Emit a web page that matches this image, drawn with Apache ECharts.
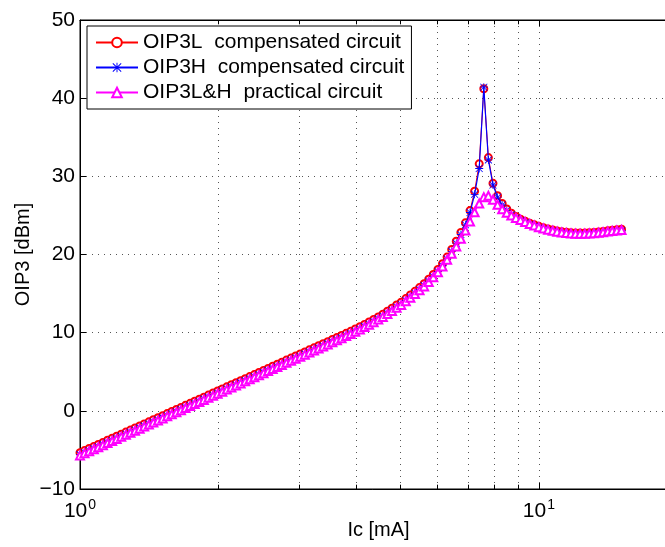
<!DOCTYPE html>
<html>
<head>
<meta charset="utf-8">
<script src="https://cdn.jsdelivr.net/npm/echarts@6/dist/echarts.min.js"></script>
<style>html,body{margin:0;padding:0;background:#fff}#c{width:665px;height:547px}</style>
</head>
<body>
<div id="c"></div>
<script>
// Ic [mA], log-spaced samples (100 per decade) from 1 to ~15
const Ic = [1.000,1.023,1.047,1.072,1.096,1.122,1.148,1.175,1.202,1.230,1.259,1.288,1.318,1.349,1.380,1.413,1.445,1.479,1.514,1.549,1.585,1.622,1.660,1.698,1.738,1.778,1.820,1.862,1.905,1.950,1.995,2.042,2.089,2.138,2.188,2.239,2.291,2.344,2.399,2.455,2.512,2.570,2.630,2.692,2.754,2.818,2.884,2.951,3.020,3.090,3.162,3.236,3.311,3.388,3.467,3.548,3.631,3.715,3.802,3.890,3.981,4.074,4.169,4.266,4.365,4.467,4.571,4.677,4.786,4.898,5.012,5.129,5.248,5.370,5.495,5.623,5.754,5.888,6.026,6.166,6.310,6.457,6.607,6.761,6.918,7.079,7.244,7.413,7.586,7.762,7.943,8.128,8.318,8.511,8.710,8.913,9.120,9.333,9.550,9.772,10.00,10.23,10.47,10.72,10.96,11.22,11.48,11.75,12.02,12.30,12.59,12.88,13.18,13.49,13.80,14.13,14.45,14.79,15.14];

const oip3L = [-5.35,-5.09,-4.82,-4.56,-4.30,-4.04,-3.77,-3.51,-3.25,-2.98,-2.72,-2.46,-2.19,-1.93,-1.67,-1.41,-1.14,-0.88,-0.62,-0.35,-0.09,0.17,0.44,0.70,0.96,1.23,1.49,1.75,2.01,2.28,2.54,2.80,3.07,3.33,3.59,3.86,4.12,4.38,4.64,4.91,5.17,5.43,5.70,5.96,6.22,6.49,6.75,7.01,7.27,7.54,7.80,8.06,8.33,8.59,8.85,9.12,9.38,9.64,9.91,10.17,10.47,10.76,11.06,11.37,11.69,12.02,12.37,12.74,13.13,13.54,13.90,14.36,14.82,15.29,15.77,16.27,16.84,17.44,18.08,18.81,19.67,20.65,21.70,22.81,24.05,25.62,28.10,31.60,41.20,32.40,29.10,27.53,26.53,25.82,25.28,24.86,24.52,24.26,24.01,23.80,23.60,23.43,23.27,23.13,23.02,22.92,22.84,22.78,22.75,22.74,22.76,22.78,22.83,22.89,22.95,23.03,23.10,23.17,23.24];

const oip3H = [-5.60,-5.34,-5.07,-4.81,-4.55,-4.29,-4.02,-3.76,-3.50,-3.23,-2.97,-2.71,-2.44,-2.18,-1.92,-1.66,-1.39,-1.13,-0.87,-0.60,-0.34,-0.08,0.19,0.45,0.71,0.98,1.24,1.50,1.76,2.03,2.29,2.55,2.82,3.08,3.34,3.61,3.87,4.13,4.39,4.66,4.92,5.18,5.45,5.71,5.97,6.24,6.50,6.76,7.02,7.29,7.55,7.81,8.08,8.34,8.60,8.87,9.13,9.39,9.66,9.92,10.22,10.51,10.81,11.12,11.44,11.77,12.12,12.49,12.88,13.29,13.65,14.11,14.57,15.04,15.52,16.02,16.59,17.19,17.83,18.56,19.42,20.40,21.45,22.56,23.80,25.37,27.70,31.00,41.40,32.10,28.90,27.33,26.33,25.62,25.08,24.66,24.32,24.06,23.81,23.60,23.40,23.23,23.07,22.93,22.82,22.72,22.64,22.58,22.55,22.54,22.56,22.58,22.63,22.69,22.75,22.83,22.90,22.97,23.04];

const oip3P = [-5.70,-5.44,-5.17,-4.91,-4.65,-4.39,-4.12,-3.86,-3.60,-3.33,-3.07,-2.81,-2.54,-2.28,-2.02,-1.76,-1.49,-1.23,-0.97,-0.70,-0.44,-0.18,0.09,0.35,0.61,0.88,1.14,1.40,1.66,1.93,2.19,2.45,2.72,2.98,3.24,3.51,3.77,4.03,4.29,4.56,4.82,5.08,5.35,5.61,5.87,6.14,6.40,6.66,6.92,7.19,7.45,7.71,7.98,8.24,8.50,8.77,9.03,9.29,9.56,9.82,10.12,10.41,10.71,11.02,11.34,11.67,12.02,12.39,12.78,13.19,13.55,14.01,14.47,14.94,15.42,15.92,16.49,17.09,17.73,18.46,19.32,20.09,21.02,22.02,23.07,24.23,25.41,26.52,27.34,27.51,27.00,26.36,25.78,25.33,24.98,24.68,24.42,24.16,23.91,23.70,23.50,23.33,23.17,23.03,22.92,22.82,22.74,22.68,22.65,22.64,22.66,22.68,22.73,22.79,22.85,22.93,23.00,23.07,23.14];

const seriesNames = ['OIP3L  compensated circuit', 'OIP3H  compensated circuit', 'OIP3L&H  practical circuit'];
const xMajorTicks = [1, 10];
const xMinorGrid = [2, 3, 4, 5, 6, 7, 8, 9];
const yTicks = [-10, 0, 10, 20, 30, 40, 50];

const FONT = "'Liberation Sans', Arial, Helvetica, sans-serif";
const STAR = 'path://M0,4.5h10v1h-10z M4.5,0h1v10h-1z M1,0.3L9.7,9L9,9.7L0.3,1Z M9,0.3L9.7,1L1,9.7L0.3,9Z';

function pairs(ys) { return Ic.map((x, i) => [x, ys[i]]); }

const minorLines = xMinorGrid.map(v => ({ xAxis: v }));
const minorTicks = [];
xMinorGrid.forEach(v => {
  minorTicks.push([{ coord: [v, -10], lineStyle: { type: 'solid', color: '#000' } }, { coord: [v, -9.45] }]);
  minorTicks.push([{ coord: [v, 50], lineStyle: { type: 'solid', color: '#000' } }, { coord: [v, 49.45] }]);
});

const chart = echarts.init(document.getElementById('c'), null, { renderer: 'canvas' });
chart.setOption({
  animation: false,
  backgroundColor: '#fff',
  textStyle: { fontFamily: FONT },
  grid: { left: 80, top: 20, width: 597, height: 469, containLabel: false, outerBoundsMode: 'none',
          show: true, borderColor: '#000', borderWidth: 1, backgroundColor: 'transparent' },
  legend: {
    orient: 'vertical', left: 87, top: 26,
    padding: [6, 7, 6, 8], itemWidth: 42, itemHeight: 12, itemGap: 4,
    borderColor: '#000', borderWidth: 1, backgroundColor: '#fff',
    textStyle: { fontSize: 21, color: '#000', fontFamily: FONT },
    data: seriesNames
  },
  xAxis: [{
    type: 'log', logBase: 10, min: 1, max: 20,
    position: 'bottom',
    axisLine: { show: true, onZero: false, lineStyle: { color: '#000', width: 1 } },
    axisTick: { show: true, inside: true, length: 6, lineStyle: { color: '#000' } },
    axisLabel: {
      margin: 4,
      formatter: function (v) {
        const i = xMajorTicks.indexOf(v);
        if (i < 0) return '';
        return '{b|10}{s|' + Math.round(Math.log10(v)) + '}';
      },
      rich: {
        b: { fontSize: 21, color: '#000', fontFamily: FONT, padding: [8, 0, 0, 0] },
        s: { fontSize: 14, color: '#000', fontFamily: FONT, padding: [0, 0, 4, 1] }
      }
    },
    splitLine: { show: true, lineStyle: { color: '#555', width: 1, type: [1, 5] } },
    name: 'Ic [mA]', nameLocation: 'middle', nameGap: 31, nameMoveOverlap: false,
    nameTextStyle: { fontSize: 20, color: '#000', fontFamily: FONT }
  }, {
    type: 'log', logBase: 10, min: 1, max: 20,
    position: 'top',
    axisLine: { show: true, onZero: false, lineStyle: { color: '#000', width: 1 } },
    axisTick: { show: true, inside: true, length: 6, lineStyle: { color: '#000' } },
    axisLabel: { show: false },
    splitLine: { show: false }
  }],
  yAxis: [{
    type: 'value', min: yTicks[0], max: yTicks[yTicks.length - 1], interval: 10,
    axisLine: { show: true, onZero: false, lineStyle: { color: '#000', width: 1 } },
    axisTick: { show: true, inside: true, length: 6, lineStyle: { color: '#000' } },
    axisLabel: {
      fontSize: 21, color: '#000', fontFamily: FONT, margin: 5,
      formatter: v => String(v).replace('-', '\u2212')
    },
    splitLine: { show: true, lineStyle: { color: '#555', width: 1, type: [1, 5] } },
    name: 'OIP3 [dBm]', nameLocation: 'middle', nameGap: 47, nameRotate: 90, nameMoveOverlap: false,
    nameTextStyle: { fontSize: 20, color: '#000', fontFamily: FONT }
  }],
  series: [{
    name: seriesNames[0], type: 'line', data: pairs(oip3L),
    symbol: 'emptyCircle', symbolSize: 7, showAllSymbol: true,
    lineStyle: { color: '#ff0000', width: 1 },
    itemStyle: { color: '#ff0000', borderColor: '#ff0000', borderWidth: 1 },
    z: 2,
    markLine: {
      silent: true, symbol: 'none', z: 1, animation: false,
      label: { show: false },
      emphasis: { disabled: true },
      lineStyle: { color: '#555', width: 1, type: [1, 5] },
      data: minorLines.concat(minorTicks)
    }
  }, {
    name: seriesNames[1], type: 'line', data: pairs(oip3H),
    symbol: STAR, symbolSize: 8, showAllSymbol: true,
    lineStyle: { color: '#0000ff', width: 1.2 },
    itemStyle: { color: '#0000ff' },
    z: 3
  }, {
    name: seriesNames[2], type: 'line', data: pairs(oip3P),
    symbol: 'emptyTriangle', symbolSize: 8, showAllSymbol: true,
    lineStyle: { color: '#ff00ff', width: 1 },
    itemStyle: { color: '#ff00ff', borderColor: '#ff00ff', borderWidth: 1 },
    z: 4
  }]
});
</script>
</body>
</html>
